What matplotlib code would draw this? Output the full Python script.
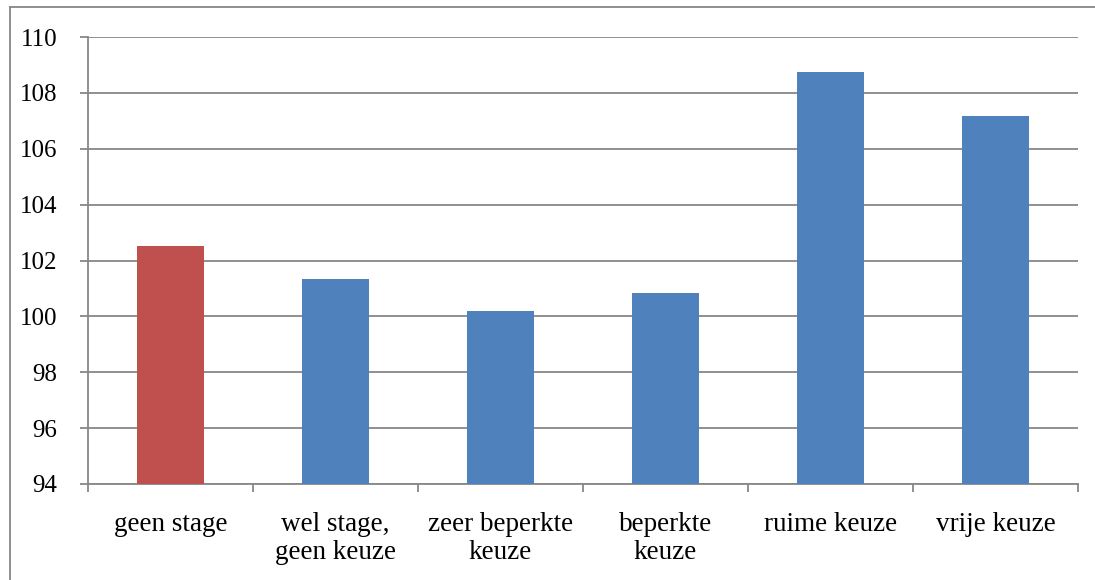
import matplotlib.pyplot as plt
from matplotlib.lines import Line2D
import numpy as np

categories = ["geen stage", "wel stage,\ngeen keuze", "zeer beperkte\nkeuze",
              "beperkte\nkeuze", "ruime keuze", "vrije keuze"]
values = [102.52, 101.34, 100.19, 100.84, 108.75, 107.17]
colors = ["#C0504D", "#4F81BD", "#4F81BD", "#4F81BD", "#4F81BD", "#4F81BD"]
yticks = [94, 96, 98, 100, 102, 104, 106, 108, 110]

plt.rcParams['font.family'] = ['Liberation Serif', 'DejaVu Serif']

fig = plt.figure(figsize=(10.95, 5.8), dpi=100)
ax = fig.add_axes([88 / 1095, 1 - 484 / 580, (1078 - 88) / 1095, (484 - 37) / 580])

x = np.arange(len(categories))
ax.bar(x, [v - 94 for v in values], bottom=94, width=0.41, color=colors, zorder=3)

ax.set_ylim(94, 110)
ax.set_xlim(-0.5, len(categories) - 0.5)
ax.set_yticks(yticks)
ax.set_yticklabels([str(t) for t in yticks], fontsize=18)
ax.yaxis.grid(True, color="#878787", linewidth=1.3, zorder=0)

ax.set_xticks(x)
ax.set_xticklabels(categories, fontsize=19.5, linespacing=1.15)
ax.set_xticks(np.arange(len(categories) + 1) - 0.5, minor=True)
ax.tick_params(axis='x', which='major', length=0, pad=20)
ax.tick_params(axis='x', which='minor', length=6, color="#878787", width=1.3, direction='out')
ax.tick_params(axis='y', length=6, color="#878787", width=1.3, pad=16)

for s in ['top', 'right']:
    ax.spines[s].set_visible(False)
for s in ['left', 'bottom']:
    ax.spines[s].set_color("#878787")
    ax.spines[s].set_linewidth(1.3)

# outer chart border (cropped at right and bottom)
fig.add_artist(Line2D([10 / 1095, 10 / 1095], [0, 1 - 7 / 580], color="#878787", linewidth=1.3))
fig.add_artist(Line2D([10 / 1095, 1], [1 - 7 / 580, 1 - 7 / 580], color="#878787", linewidth=1.3))

fig.savefig("out.png", dpi=100)
